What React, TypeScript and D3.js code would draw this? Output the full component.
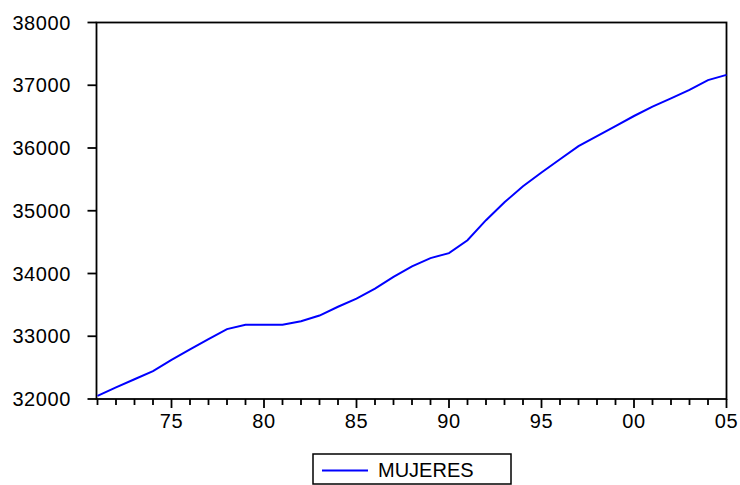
import React from "react";
import * as d3 from "d3";

const years = [1971,1972,1973,1974,1975,1976,1977,1978,1979,1980,1981,1982,1983,1984,1985,1986,1987,1988,1989,1990,1991,1992,1993,1994,1995,1996,1997,1998,1999,2000,2001,2002,2003,2004,2005];
const mujeres = [32050,32185,32315,32444,32625,32790,32955,33114,33184,33184,33184,33240,33330,33470,33600,33760,33945,34115,34245,34325,34530,34850,35135,35390,35610,35820,36030,36190,36350,36510,36660,36790,36925,37082,37165];
const yTicks = [32000,33000,34000,35000,36000,37000,38000];
const xMajorTicks = [1975,1980,1985,1990,1995,2000,2005];
const seriesName = "MUJERES";

export default function App() {
  const left = 96.5, right = 726.5, top = 22.5, bottom = 399;
  const x = d3.scaleLinear().domain([1971, 2005]).range([left + 1, right]);
  const y = d3.scaleLinear().domain([32000, 38000]).range([bottom, top]);
  const line = d3.line<number>().x((_, i) => x(years[i])).y(d => y(d));
  const minor = d3.range(1971, 2006);
  const font = "'Liberation Sans', Arial, sans-serif";
  return (
    <svg width={740} height={485} style={{ position: "absolute", left: 0, top: 0, background: "#fff" }}>
      <rect x={left} y={top} width={right - left} height={bottom - top} fill="none" stroke="#000" strokeWidth={1.8} />
      {yTicks.map(t => (
        <g key={t}>
          <line x1={left - 9} x2={left} y1={y(t)} y2={y(t)} stroke="#000" strokeWidth={1.8} />
          <text x={71} y={y(t)} dy="0.36em" textAnchor="end" fontFamily={font} fontSize={20} letterSpacing={0.6} fill="#000">{t}</text>
        </g>
      ))}
      {minor.map(t => (
        <line key={t} x1={x(t)} x2={x(t)} y1={bottom} y2={bottom + (xMajorTicks.includes(t) ? 9 : 6)} stroke="#000" strokeWidth={1.8} />
      ))}
      {xMajorTicks.map(t => (
        <text key={t} x={x(t)} y={428} textAnchor="middle" fontFamily={font} fontSize={20} letterSpacing={0.6} fill="#000">{String(t % 100).padStart(2, "0")}</text>
      ))}
      <path d={line(mujeres) || ""} fill="none" stroke="#0000ff" strokeWidth={2} />
      <rect x={313} y={454} width={198} height={30} fill="none" stroke="#000" strokeWidth={1.5} />
      <line x1={322} x2={368} y1={470.5} y2={470.5} stroke="#0000ff" strokeWidth={2} />
      <text x={378} y={477} fontFamily={font} fontSize={20} fill="#000">{seriesName}</text>
    </svg>
  );
}
